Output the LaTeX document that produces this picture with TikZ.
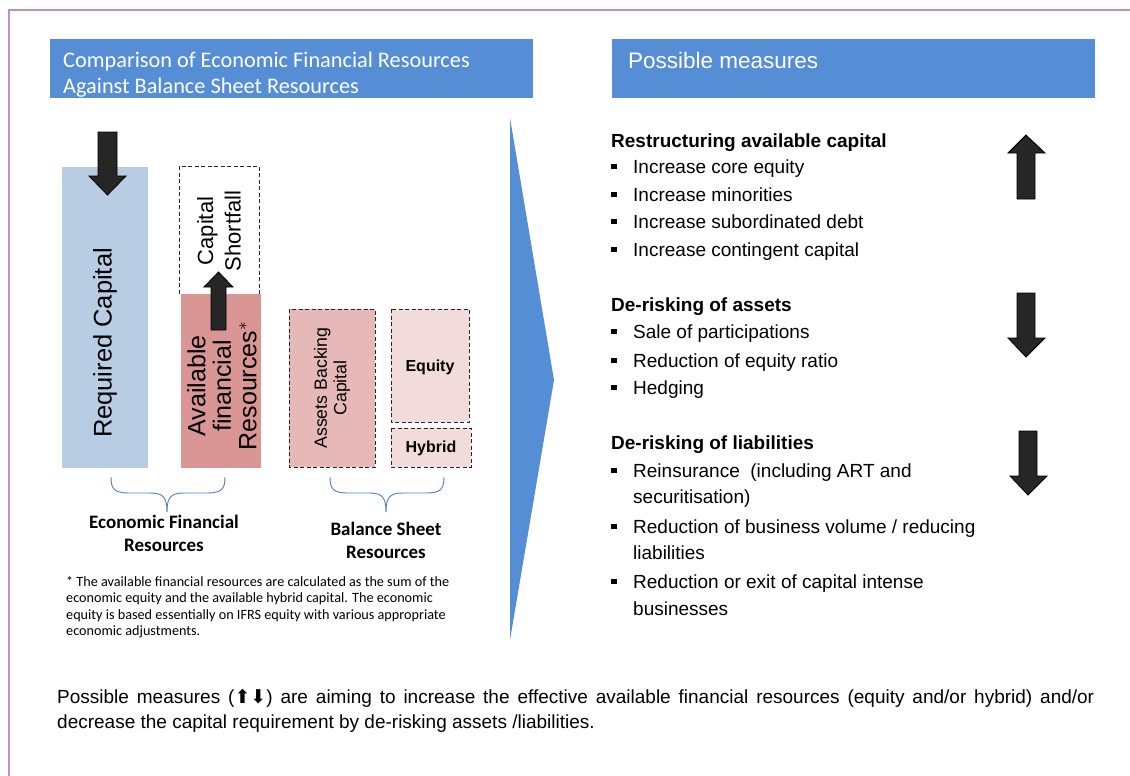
\documentclass[tikz,border=0pt]{standalone}
\usepackage{fontspec}
\setmainfont{Liberation Sans}
\newfontfamily\carlito{Carlito}
\newfontfamily\dejavu{DejaVu Sans}
\definecolor{hdrblue}{RGB}{85,142,213}
\definecolor{reqblue}{RGB}{184,204,228}
\definecolor{afrred}{RGB}{218,150,148}
\definecolor{abcpink}{RGB}{230,184,183}
\definecolor{eqpink}{RGB}{242,220,219}
\definecolor{bracecol}{RGB}{79,129,189}
\definecolor{framecol}{RGB}{185,145,205}
\definecolor{arrowfill}{RGB}{38,38,38}
\newcommand{\bul}{\makebox[22pt][l]{\raisebox{4pt}{\rule{5.5pt}{5.5pt}}}}
\begin{document}
\begin{tikzpicture}[x=1pt,y=-1pt,
  txt/.style={inner sep=0pt,anchor=base west},
  ctxt/.style={inner sep=0pt,anchor=base},
  hdr/.style={fill=hdrblue,draw=none},
  dbox/.style={draw=black!85,line width=1pt,dash pattern=on 4pt off 2.5pt},
  blockarrow/.style={fill=arrowfill,draw=black,line width=0.8pt,line join=miter},
  bracestyle/.style={draw=bracecol,line width=0.9pt},
  rottxt/.style={rotate=90,inner sep=0pt,align=center}
]
\useasboundingbox (0,0) rectangle (1130,776);
% frame
\draw[framecol,line width=1.5pt] (9,776) -- (9,10) -- (1130,10);
% headers
\node[hdr,minimum width=483pt,minimum height=59pt,anchor=north west,inner sep=0pt] (lh) at (50,39) {};
\node[txt,text=white,font=\carlito\fontsize{22.3}{26}\selectfont] (lh1) at (63,67) {Comparison of Economic Financial Resources};
\node[txt,text=white,font=\carlito\fontsize{22.3}{26}\selectfont] (lh2) at (63,93) {Against Balance Sheet Resources};
\node[hdr,minimum width=483pt,minimum height=59pt,anchor=north west,inner sep=0pt] (rh) at (612,39) {};
\node[txt,text=white,font=\fontsize{22.5}{26}\selectfont] (rh1) at (628,69) {Possible measures};
% bars
\fill[reqblue] (62,167) rectangle (148,468);
\node[rottxt,font=\fontsize{25.5}{30}\selectfont] (req) at (105,343) {Required Capital};
\draw[dbox,fill=white] (179,166) rectangle (259,294);
\node[rottxt,font=\fontsize{22}{27.5}\selectfont] (cs) at (219,231) {Capital\\Shortfall};
\fill[afrred] (181,294) rectangle (261,468);
\node[rottxt,font=\fontsize{25}{25.5}\selectfont] (afr) at (222,386) {Available\\financial\\Resources$^{*}$};
\draw[dbox,fill=abcpink] (289,309) rectangle (375,467);
\node[rottxt,font=\fontsize{17.7}{19.5}\selectfont] (abc) at (332,388) {Assets Backing\\Capital};
\draw[dbox,fill=eqpink] (391,309) rectangle (469,422);
\node[inner sep=0pt,font=\bfseries\fontsize{16}{18}\selectfont] (eq) at (430,367) {Equity};
\draw[dbox,fill=eqpink] (391,428) rectangle (471,467);
\node[inner sep=0pt,font=\bfseries\fontsize{16}{18}\selectfont] (hy) at (431,448) {Hybrid};
% block arrows left
\draw[blockarrow] (98,132) -- (117,132) -- (117,176) -- (126,176) -- (107.5,195) -- (89,176) -- (98,176) -- cycle;
\draw[blockarrow] (211,330) -- (226,330) -- (226,287) -- (233,287) -- (218.5,272) -- (204,287) -- (211,287) -- cycle;
% braces
\draw[bracestyle] (111,477) .. controls (111,490) and (115,493) .. (130,493) -- (150,493) .. controls (163,493) and (167,497) .. (167,512);
\draw[bracestyle] (225,477) .. controls (225,490) and (221,493) .. (206,493) -- (184,493) .. controls (171,493) and (167,497) .. (167,512);
\draw[bracestyle] (330,477) .. controls (330,490) and (334,493) .. (349,493) -- (369,493) .. controls (382,493) and (386,497) .. (386,512);
\draw[bracestyle] (444,477) .. controls (444,490) and (440,493) .. (425,493) -- (403,493) .. controls (390,493) and (386,497) .. (386,512);
\begin{scope}[every node/.style={ctxt,font=\carlito\bfseries\fontsize{19}{23}\selectfont}]
\node (efr1) at (164,528) {Economic Financial};
\node (efr2) at (164,551) {Resources};
\node (bsr1) at (386,535) {Balance Sheet};
\node (bsr2) at (386,558) {Resources};
\end{scope}
% footnote
\begin{scope}[every node/.style={txt,font=\carlito\fontsize{14.2}{16}\selectfont}]
\node (fn1) at (66,586) {* The available financial resources are calculated as the sum of the};
\node (fn2) at (66,602.5) {economic equity and the available hybrid capital. The economic};
\node (fn3) at (66,619) {equity is based essentially on IFRS equity with various appropriate};
\node (fn4) at (66,635.5) {economic adjustments.};
\end{scope}
% chevron
\fill[hdrblue] (510,118) -- (554,380) -- (510,640) -- cycle;
% right list
\begin{scope}[every node/.style={txt,font=\fontsize{19}{22}\selectfont}]
\node[font=\bfseries\fontsize{19}{22}\selectfont] (h1) at (611,147) {Restructuring available capital};
\node (i11) at (611,173) {\bul Increase core equity};
\node (i12) at (611,201) {\bul Increase minorities};
\node (i13) at (611,228) {\bul Increase subordinated debt};
\node (i14) at (611,256) {\bul Increase contingent capital};
\node[font=\bfseries\fontsize{19}{22}\selectfont] (h2) at (611,311) {De-risking of assets};
\node (i21) at (611,338) {\bul Sale of participations};
\node (i22) at (611,367) {\bul Reduction of equity ratio};
\node (i23) at (611,394) {\bul Hedging};
\node[font=\bfseries\fontsize{19}{22}\selectfont] (h3) at (611,449) {De-risking of liabilities};
\node (i31) at (611,477) {\bul Reinsurance\ \ (including ART and};
\node (i31b) at (633,503) {securitisation)};
\node (i32) at (611,533) {\bul Reduction of business volume / reducing};
\node (i32b) at (633,559) {liabilities};
\node (i33) at (611,588) {\bul Reduction or exit of capital intense};
\node (i33b) at (633,615) {businesses};
\end{scope}
% right block arrows
\draw[blockarrow] (1017,199) -- (1035,199) -- (1035,153) -- (1045,153) -- (1026,135) -- (1008,153) -- (1017,153) -- cycle;
\draw[blockarrow] (1017,293) -- (1035,293) -- (1035,338) -- (1045,338) -- (1026,357) -- (1008,338) -- (1017,338) -- cycle;
\draw[blockarrow] (1019,431) -- (1037,431) -- (1037,476) -- (1047,476) -- (1028,495) -- (1010,476) -- (1019,476) -- cycle;
% bottom text
\node[txt,anchor=north west,text width=1037pt,align=justify,font=\fontsize{19}{25}\selectfont] (bt) at (57,689) {Possible measures ({\dejavu\fontsize{19}{25}\selectfont ⬆⬇}) are aiming to increase the effective available financial resources (equity and/or hybrid) and/or\linebreak decrease the capital requirement by de-risking assets /liabilities.};
\end{tikzpicture}
\end{document}
